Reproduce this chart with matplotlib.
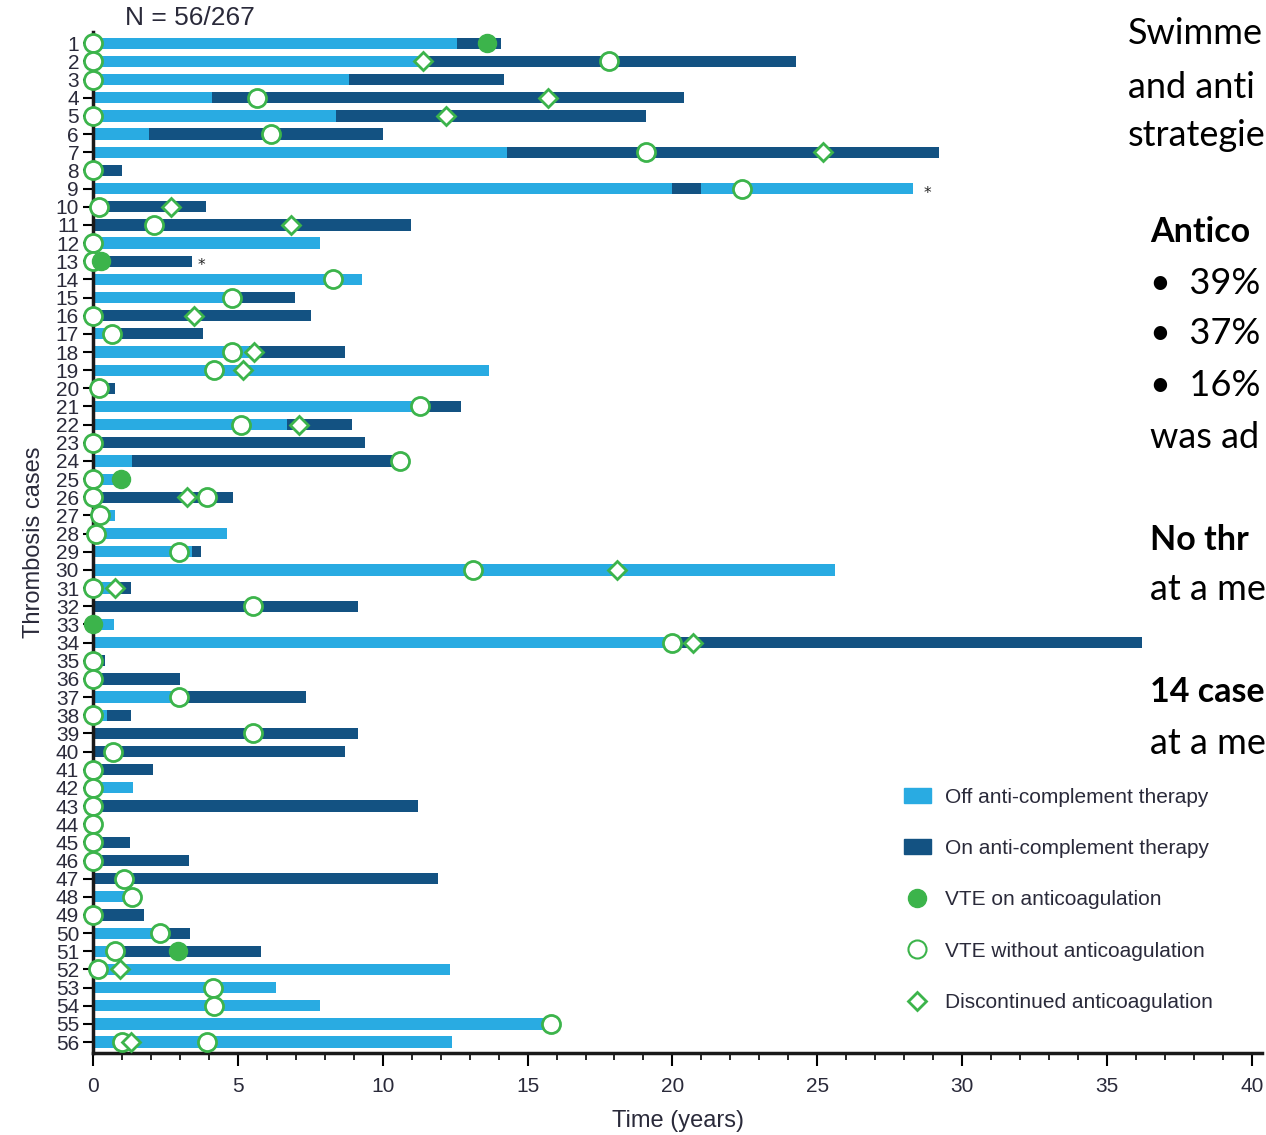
import matplotlib
matplotlib.use("Agg")
import matplotlib.pyplot as plt
from matplotlib.lines import Line2D
from matplotlib.patches import Patch

# colours
light_blue = "#29abe2"
dark_blue = "#135282"
green = "#3cb44b"

narrow = ["Liberation Sans", "DejaVu Sans"]

cases = list(range(1, 57))

# therapy segments per case: list of (end, state); start = previous end (first starts at 0)
# state "off" = off anti-complement therapy, "on" = on anti-complement therapy
segments = [
    [(12.57, "off"), (14.1, "on")],
    [(11.4, "off"), (24.25, "on")],
    [(8.83, "off"), (14.17, "on")],
    [(4.1, "off"), (20.4, "on")],
    [(8.4, "off"), (19.1, "on")],
    [(1.94, "off"), (10.0, "on")],
    [(14.3, "off"), (29.2, "on")],
    [(1.0, "on")],
    [(20.0, "off"), (21.0, "on"), (28.3, "off")],
    [(3.9, "on")],
    [(10.97, "on")],
    [(7.84, "off")],
    [(3.42, "on")],
    [(9.3, "off")],
    [(4.8, "off"), (6.97, "on")],
    [(7.53, "on")],
    [(0.67, "off"), (3.78, "on")],
    [(5.4, "off"), (8.7, "on")],
    [(13.66, "off")],
    [(0.76, "on")],
    [(11.3, "off"), (12.7, "on")],
    [(6.68, "off"), (8.94, "on")],
    [(9.38, "on")],
    [(1.33, "off"), (10.6, "on")],
    [(0.96, "off")],
    [(4.83, "on")],
    [(0.76, "off")],
    [(4.64, "off")],
    [(3.42, "off"), (3.72, "on")],
    [(25.6, "off")],
    [(0.76, "off"), (1.31, "on")],
    [(9.13, "on")],
    [(0.71, "off")],
    [(20.3, "off"), (36.2, "on")],
    [(0.4, "on")],
    [(2.99, "on")],
    [(2.97, "off"), (7.34, "on")],
    [(0.47, "off"), (1.31, "on")],
    [(9.13, "on")],
    [(8.7, "on")],
    [(2.07, "on")],
    [(1.39, "off")],
    [(11.22, "on")],
    [],
    [(1.27, "on")],
    [(3.3, "on")],
    [(11.9, "on")],
    [(1.33, "off")],
    [(1.76, "on")],
    [(2.32, "off"), (3.36, "on")],
    [(0.76, "off"), (5.81, "on")],
    [(12.33, "off")],
    [(6.3, "off")],
    [(7.84, "off")],
    [(15.8, "off")],
    [(12.4, "off")],
]

# VTE without anticoagulation (open circles): (case, time)
vte_no_ac = [
    (1, 0), (2, 0), (2, 17.8), (3, 0), (4, 5.66), (5, 0), (6, 6.16), (7, 19.1),
    (8, 0), (9, 22.4), (10, 0.2), (11, 2.1), (12, 0), (13, 0), (14, 8.3),
    (15, 4.8), (16, 0), (17, 0.67), (18, 4.8), (19, 4.18), (20, 0.2), (21, 11.3),
    (22, 5.1), (23, 0), (24, 10.6), (25, 0), (26, 0), (26, 3.92), (27, 0.24),
    (28, 0.1), (29, 2.97), (30, 13.1), (31, 0), (32, 5.52), (34, 20.0), (35, 0),
    (36, 0), (37, 2.97), (38, 0), (39, 5.52), (40, 0.69), (41, 0), (42, 0),
    (43, 0), (44, 0), (45, 0), (46, 0), (47, 1.08), (48, 1.33), (49, 0),
    (50, 2.32), (51, 0.76), (52, 0.18), (53, 4.15), (54, 4.18), (55, 15.8),
    (56, 1.0), (56, 3.92),
]

# VTE on anticoagulation (filled circles)
vte_on_ac = [(1, 13.6), (13, 0.28), (25, 0.96), (33, 0.0), (51, 2.92)]

# discontinued anticoagulation (diamonds)
discontinued = [
    (2, 11.4), (4, 15.7), (5, 12.2), (7, 25.2), (10, 2.7), (11, 6.85), (16, 3.48),
    (18, 5.57), (19, 5.17), (22, 7.1), (26, 3.25), (30, 18.1), (31, 0.76),
    (34, 20.7), (52, 0.93), (56, 1.3),
]

# cases flagged with an asterisk
star_cases = [(9, 28.8), (13, 3.75)]

fig = plt.figure(figsize=(12.66, 11.35), dpi=100)
ax = fig.add_axes([93 / 1266, 1 - 1053 / 1135, 1169 / 1266, 1020.6 / 1135])

for case, segs in zip(cases, segments):
    start = 0
    for end, state in segs:
        ax.barh(case, end - start, left=start, height=0.62,
                color=light_blue if state == "off" else dark_blue, zorder=2)
        start = end

ax.plot([t for c, t in vte_no_ac], [c for c, t in vte_no_ac], "o", ls="none",
        ms=13, mfc="white", mec=green, mew=2, zorder=3, clip_on=False)
ax.plot([t for c, t in discontinued], [c for c, t in discontinued], "D", ls="none",
        ms=9, mfc="white", mec=green, mew=2, zorder=4, clip_on=False)
ax.plot([t for c, t in vte_on_ac], [c for c, t in vte_on_ac], "o", ls="none",
        ms=13, mfc=green, mec=green, mew=1, zorder=5, clip_on=False)
for c, t in star_cases:
    ax.text(t, c + 0.25, "*", fontsize=11, ha="center", va="center", color="#222")

ax.set_xlim(0, 40.35)
ax.set_ylim(56.6, 0.4)
ax.set_yticks(cases)
ax.set_yticklabels([str(c) for c in cases], family=narrow, fontsize=15, color="#2a2a3a")
ax.set_xticks(range(0, 41, 5))
ax.set_xticks(range(0, 41), minor=True)
ax.set_xticklabels([str(v) for v in range(0, 41, 5)], family=narrow, fontsize=15, color="#2a2a3a")
ax.tick_params(axis="y", length=7, width=1.5, pad=3)
ax.tick_params(axis="x", which="major", length=9, width=1.5, pad=8)
ax.tick_params(axis="x", which="minor", length=5, width=1.2)
for s in ["top", "right"]:
    ax.spines[s].set_visible(False)
for s in ["left", "bottom"]:
    ax.spines[s].set_linewidth(2.5)
    ax.spines[s].set_color("#1a1a1a")

ax.set_xlabel("Time (years)", family=narrow, fontsize=17, color="#2a2a3a", labelpad=10)
ax.set_ylabel("Thrombosis cases", family=narrow, fontsize=17, color="#2a2a3a", labelpad=8)

fig.text(125 / 1266, 1 - 18 / 1135, "N = 56/267", family=narrow, fontsize=19,
         color="#2a2a3a", va="center")

handles = [
    Patch(color=light_blue, label="Off anti-complement therapy"),
    Patch(color=dark_blue, label="On anti-complement therapy"),
    Line2D([], [], marker="o", ls="none", ms=13, mfc=green, mec=green, label="VTE on anticoagulation"),
    Line2D([], [], marker="o", ls="none", ms=13, mfc="white", mec=green, mew=1.5, label="VTE without anticoagulation"),
    Line2D([], [], marker="D", ls="none", ms=9, mfc="white", mec=green, mew=2, label="Discontinued anticoagulation"),
]
leg = fig.legend(handles=handles, loc="upper left", bbox_to_anchor=(885 / 1266, 1 - 769 / 1135),
                 frameon=False, prop={"family": narrow, "size": 15}, labelspacing=1.55,
                 handlelength=1.3, handletextpad=0.7, labelcolor="#2a2a3a")

# side text, only the part that is visible at the right edge
side_lines = [
    (1128, 33, "Swimme", "normal"),
    (1128, 87, "and anti", "normal"),
    (1128, 135, "strategie", "normal"),
    (1150, 232, "Antico", "bold"),
    (1150, 283, "\u2022  39%", "normal"),
    (1150, 333, "\u2022  37%", "normal"),
    (1150, 385, "\u2022  16%", "normal"),
    (1150, 437, "was ad", "normal"),
    (1150, 540, "No thr", "bold"),
    (1150, 590, "at a me", "normal"),
    (1150, 692, "14 case", "bold"),
    (1150, 743, "at a me", "normal"),
]
for x, y, txt, w in side_lines:
    fig.text(x / 1266, 1 - y / 1135, txt, family=["Lato", "DejaVu Sans"],
             fontsize=24.5 if w == "bold" else 26,
             weight=w, color="black", va="center", ha="left")

fig.savefig("out.png", dpi=100)
